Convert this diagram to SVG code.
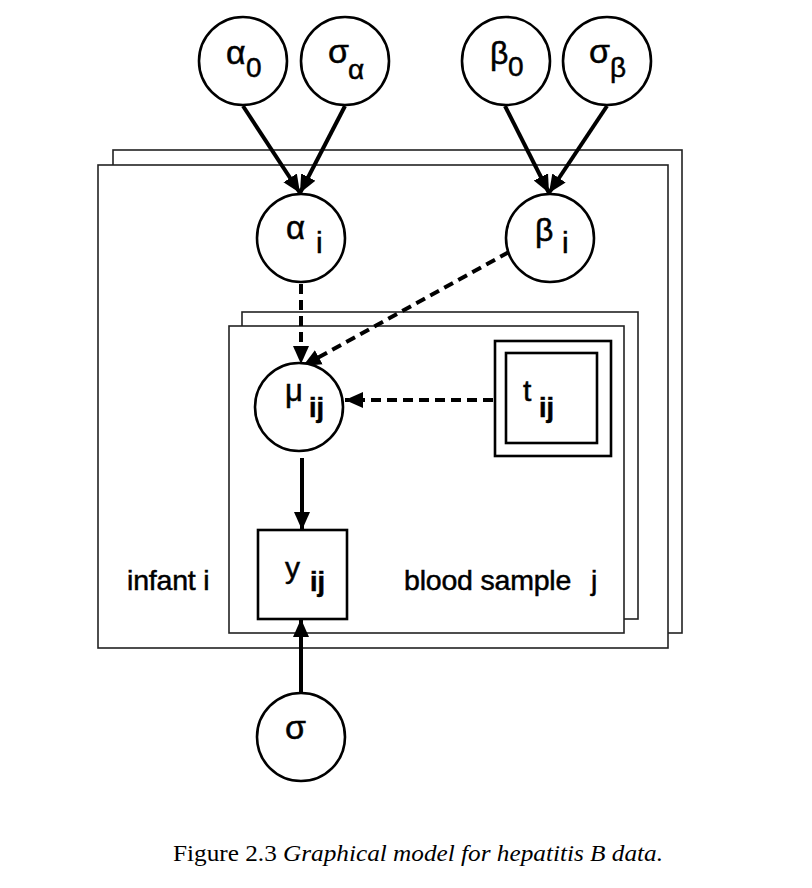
<svg xmlns="http://www.w3.org/2000/svg" width="812" height="888" viewBox="0 0 812 888">
<style>
.plate{fill:#fff;stroke:#222;stroke-width:1.6}
.node{fill:#fff;stroke:#000;stroke-width:2.6}
.lbl{font-family:"Liberation Sans",Arial,sans-serif;fill:#000;stroke:#000;stroke-width:0.5}
.solid{stroke:#000;stroke-width:4;fill:none}
.dash{stroke:#000;stroke-width:4;fill:none;stroke-dasharray:10 6}
.cap{font-family:"Liberation Serif","Times New Roman",serif;font-size:24px;fill:#000}
</style>
<defs>
<marker id="ah" markerUnits="userSpaceOnUse" markerWidth="20" markerHeight="20" viewBox="0 0 20 20" refX="18" refY="10" orient="auto">
<path d="M0,2 L18,10 L0,18 z" fill="#000"/>
</marker>
</defs>
<g id="plates">
<rect class="plate" x="113" y="150" width="569" height="483"/>
<rect class="plate" x="98" y="165" width="570" height="483"/>
<rect class="plate" x="242" y="312" width="396" height="307"/>
<rect class="plate" x="229" y="326" width="395" height="307"/>
<text class="lbl" x="127" y="590" font-size="28.5" letter-spacing="-0.2">infant i</text>
<text class="lbl" x="404" y="590" font-size="28.5" letter-spacing="-0.2">blood sample</text>
<text class="lbl" x="591" y="590" font-size="28.5">j</text>
</g>
<g id="connectors">
<line class="solid" x1="243" y1="106" x2="300" y2="193" marker-end="url(#ah)"/>
<line class="solid" x1="345" y1="106" x2="300" y2="193" marker-end="url(#ah)"/>
<line class="solid" x1="505" y1="106" x2="549" y2="193" marker-end="url(#ah)"/>
<line class="solid" x1="607" y1="106" x2="549" y2="193" marker-end="url(#ah)"/>
<line class="dash" x1="301" y1="284" x2="301" y2="364" marker-end="url(#ah)"/>
<line class="dash" x1="509" y1="252" x2="303" y2="366" marker-end="url(#ah)"/>
<line class="dash" x1="493" y1="400" x2="345" y2="400" marker-end="url(#ah)"/>
<line class="solid" x1="302" y1="458" x2="302" y2="530" marker-end="url(#ah)"/>
<line class="solid" x1="301" y1="692" x2="301" y2="619" marker-end="url(#ah)"/>
</g>
<g id="alpha0">
<circle class="node" cx="243" cy="61" r="44"/>
<text class="lbl" x="226" y="64" font-size="34">α</text>
<text class="lbl" x="246" y="77" font-size="28">0</text>
</g>
<g id="sigmaalpha">
<circle class="node" cx="345" cy="61" r="44"/>
<text class="lbl" x="328" y="63" font-size="34">σ</text>
<text class="lbl" x="348" y="79" font-size="28">α</text>
</g>
<g id="beta0">
<circle class="node" cx="506" cy="61" r="44"/>
<text class="lbl" x="490" y="64" font-size="32">β</text>
<text class="lbl" x="508" y="76" font-size="28">0</text>
</g>
<g id="sigmabeta">
<circle class="node" cx="607" cy="61" r="44"/>
<text class="lbl" x="589" y="63" font-size="34">σ</text>
<text class="lbl" x="610" y="77" font-size="28">β</text>
</g>
<g id="alphai">
<circle class="node" cx="301" cy="238" r="44"/>
<text class="lbl" x="286" y="239" font-size="33">α</text>
<text class="lbl" x="316" y="253" font-size="30">i</text>
</g>
<g id="betai">
<circle class="node" cx="550" cy="238" r="44"/>
<text class="lbl" x="535" y="241" font-size="32">β</text>
<text class="lbl" x="562" y="253" font-size="30">i</text>
</g>
<g id="muij">
<ellipse class="node" cx="299" cy="407" rx="44" ry="44"/>
<text class="lbl" x="285" y="401" font-size="31">μ</text>
<text class="lbl" x="309" y="417" font-size="27" font-weight="bold">ij</text>
</g>
<g id="tij">
<rect class="node" x="495" y="341" width="116" height="115" stroke-width="2"/>
<rect class="node" x="506" y="353" width="91" height="90"/>
<text class="lbl" x="523" y="401" font-size="30">t</text>
<text class="lbl" x="539" y="417" font-size="27" font-weight="bold">ij</text>
</g>
<g id="yij">
<rect class="node" x="258" y="530" width="89" height="89"/>
<text class="lbl" x="285" y="578" font-size="30">y</text>
<text class="lbl" x="310" y="591" font-size="27" font-weight="bold">ij</text>
</g>
<g id="sigma">
<circle class="node" cx="301" cy="737" r="44"/>
<text class="lbl" x="285" y="739" font-size="34">σ</text>
</g>
<text class="cap" x="173" y="861" textLength="490" lengthAdjust="spacingAndGlyphs">Figure 2.3 <tspan font-style="italic">Graphical model for hepatitis B data.</tspan></text>
</svg>
